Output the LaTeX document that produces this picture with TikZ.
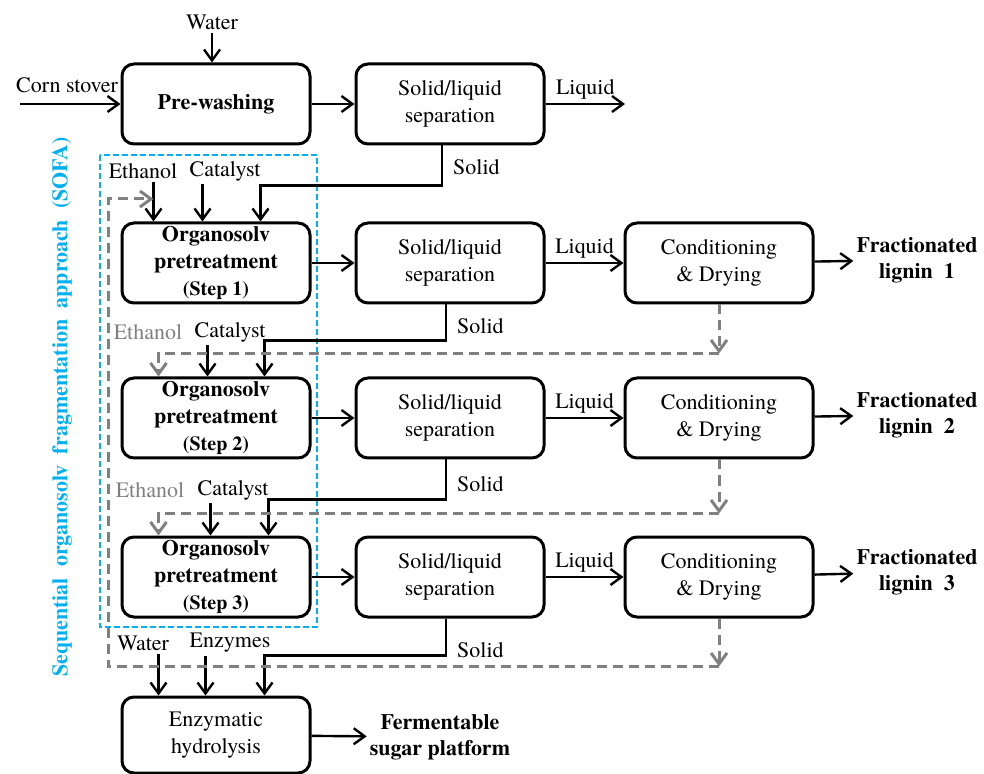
\documentclass[tikz,border=0pt]{standalone}
\usepackage{fontspec}
\setmainfont{texgyretermes}[Extension=.otf, UprightFont=*-regular, BoldFont=*-bold,
  ItalicFont=*-italic, BoldItalicFont=*-bolditalic]
\usetikzlibrary{arrows.meta,calc}
\definecolor{sofablue}{RGB}{0,176,240}
\definecolor{recgray}{RGB}{128,128,128}
\newcommand{\stepfont}{\fontsize{10}{12}\selectfont\bfseries}

\begin{document}
\begin{tikzpicture}[x=0.5pt, y=-0.5pt, line width=1.2pt,
    >={Straight Barb[length=5.5pt,width=8pt]},
    box/.style={draw, line width=1.5pt, rounded corners=6pt, minimum width=94pt,
      minimum height=40pt, inner sep=0pt, align=center, font=\fontsize{11}{13.5}\selectfont},
    lbl/.style={inner sep=1pt, font=\fontsize{11}{13}\selectfont},
    product/.style={inner sep=1pt, align=center, font=\fontsize{11}{13}\selectfont\bfseries},
    recycle/.style={draw=recgray, line width=1.5pt, dash pattern=on 5pt off 3pt},
    sofaframe/.style={draw=sofablue, line width=1pt, dash pattern=on 3pt off 1.5pt}]
  \useasboundingbox (0,0) rectangle (984,774);

  % SOFA frame
  \draw[sofaframe] (100,155) rectangle (317,627);
  \node[rotate=90, text=sofablue, font=\fontsize{11}{13}\selectfont\bfseries] (sofa) at (62,407)
    {Sequential\ \ organosolv\ \ fragmentation\ \ approach\ \ (SOFA)};

  % Pre-washing row
  \node[box] (wash) at (216,104) {\textbf{Pre-washing}};
  \node[box] (sep0) at (450,104) {Solid/liquid\\separation};
  \node[lbl] (corn) at (67,85) {Corn stover};
  \node[lbl] (water0) at (212,22) {Water};
  \coordinate (cs) at (20,104);
  \coordinate (lq0) at (625,104);
  \draw[->] (cs) -- (wash);
  \draw[->] (water0) -- (water0 |- wash.north);
  \draw[->] (wash) -- (sep0);
  \draw[->] (sep0) -- (lq0) node[midway, above=1pt, lbl] {Liquid};

  % Step 1
  \node[box] (org1) at (216,263) {\textbf{Organosolv}\\\textbf{pretreatment}\\{\stepfont(Step 1)}};
  \node[box] (sep1) at (450,263) {Solid/liquid\\separation};
  \node[box] (cond1) at (719,263) {Conditioning\\\& Drying};
  \node[product] (lig1) at (917,260) {Fractionated\\lignin~~1};
  \node[lbl] (eth1) at (143,171) {Ethanol};
  \node[lbl] (cat1) at (225,171) {Catalyst};
  \coordinate (e1) at ($(org1.north west)+(33,0)$);
  \coordinate (c1) at ($(org1.north west)+(82,0)$);
  \coordinate (s1) at ($(org1.north west)+(140,0)$);
  \draw[->] (e1 |- eth1.south) -- (e1);
  \draw[->] (c1 |- cat1.south) -- (c1);
  \draw[->] ($(sep0.south)+(-8,0)$) -- ++(0,40) node[pos=0.55, right=4pt, lbl] {Solid} -| (s1);
  \draw[->] (org1) -- (sep1);
  \draw[->] (sep1) -- (cond1) node[midway, above=1pt, lbl] {Liquid};
  \draw[->] (cond1) -- (lig1);

  % Step 2
  \node[box] (org2) at (216,418) {\textbf{Organosolv}\\\textbf{pretreatment}\\{\stepfont(Step 2)}};
  \node[box] (sep2) at (450,418) {Solid/liquid\\separation};
  \node[box] (cond2) at (719,418) {Conditioning\\\& Drying};
  \node[product] (lig2) at (917,415) {Fractionated\\lignin~~2};
  \node[lbl, text=recgray] (eth2) at (148,332) {Ethanol};
  \node[lbl] (cat2) at (230,332) {Catalyst};
  \coordinate (e2) at ($(org2.north west)+(38,0)$);
  \coordinate (c2) at ($(org2.north west)+(87,0)$);
  \coordinate (s2) at ($(org2.north west)+(144,0)$);
  \draw[->] (c2 |- cat2.south) -- (c2);
  \draw[->] ($(sep1.south)+(-4,0)$) -- ++(0,36) node[pos=0.6, right=4pt, lbl] {Solid} -| (s2);
  \draw[recycle, ->] (cond1.south) -- ++(0,49) coordinate (r1);
  \draw[recycle, ->] (r1) -| (e2);
  \draw[->] (org2) -- (sep2);
  \draw[->] (sep2) -- (cond2) node[midway, above=1pt, lbl] {Liquid};
  \draw[->] (cond2) -- (lig2);

  % Step 3
  \node[box] (org3) at (216,577) {\textbf{Organosolv}\\\textbf{pretreatment}\\{\stepfont(Step 3)}};
  \node[box] (sep3) at (450,577) {Solid/liquid\\separation};
  \node[box] (cond3) at (719,577) {Conditioning\\\& Drying};
  \node[product] (lig3) at (917,572) {Fractionated\\lignin~~3};
  \node[lbl, text=recgray] (eth3) at (150,490) {Ethanol};
  \node[lbl] (cat3) at (233,490) {Catalyst};
  \coordinate (e3) at ($(org3.north west)+(38,0)$);
  \coordinate (c3) at ($(org3.north west)+(90,0)$);
  \coordinate (s3) at ($(org3.north west)+(148,0)$);
  \draw[->] (c3 |- cat3.south) -- (c3);
  \draw[->] ($(sep2.south)+(-4,0)$) -- ++(0,40) node[pos=0.62, right=4pt, lbl] {Solid} -| (s3);
  \draw[recycle, ->] (cond2.south) -- ++(0,54) coordinate (r2);
  \draw[recycle, ->] (r2) -| (e3);
  \draw[->] (org3) -- (sep3);
  \draw[->] (sep3) -- (cond3) node[midway, above=1pt, lbl] {Liquid};
  \draw[->] (cond3) -- (lig3);

  % Enzymatic hydrolysis
  \node[box, minimum height=38pt] (enz) at (216,735) {Enzymatic\\hydrolysis};
  \node[product] (ferm) at (440,737) {Fermentable\\sugar platform};
  \node[lbl] (water4) at (143,643) {Water};
  \node[lbl] (enzy4) at (230,643) {Enzymes};
  \coordinate (w4) at ($(enz.north west)+(38,0)$);
  \coordinate (z4) at ($(enz.north west)+(85,0)$);
  \coordinate (s4) at ($(enz.north west)+(144,0)$);
  \draw[->] (w4 |- water4.south) -- (w4);
  \draw[->] (z4 |- enzy4.south) -- (z4);
  \draw[->] ($(sep3.south)+(-4,0)$) -- ++(0,37) node[pos=0.85, right=4pt, lbl] {Solid} -| (s4);
  \draw[->] (enz) -- (ferm);

  % ethanol recycle to step 1
  \coordinate (lp) at (108,199);
  \draw[recycle, ->] (cond3.south) -- ++(0,48) coordinate (r3);
  \draw[recycle, ->] (r3) -| (lp) -- (lp -| e1);
\end{tikzpicture}
\end{document}
